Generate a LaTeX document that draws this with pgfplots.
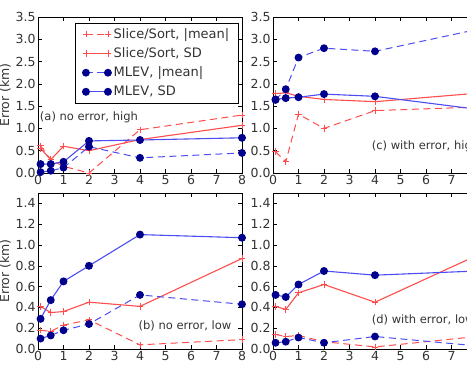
\documentclass[border=0pt]{standalone}
\usepackage{fontspec}
\setmainfont{DejaVu Sans}
\usepackage{pgfplots}
\pgfplotsset{compat=1.18}

\definecolor{rl}{rgb}{1,0.3,0.3}
\definecolor{bl}{rgb}{0.3,0.3,0.95}
\definecolor{nv}{rgb}{0,0,0.55}
\definecolor{tx}{gray}{0.2}

\tikzset{lab/.style={font=\fontsize{11.5}{14}\selectfont, text=tx, anchor=west, inner sep=0pt}}

\pgfplotsset{
 myax/.style={scale only axis, width=204pt, height=156pt, xmin=0, xmax=8, ymin=0,
   xtick={0,...,8}, tick align=inside, major tick length=4pt,
   tick style={black, line width=0.5pt}, axis line style={line width=0.8pt, black},
   ticklabel style={font=\fontsize{12.5}{14}\selectfont, text=tx},
   xticklabel style={yshift=1pt},
   /pgf/number format/assume math mode=true,
   yticklabel style={/pgf/number format/fixed, /pgf/number format/fixed zerofill, /pgf/number format/precision=1, xshift=1pt},
   label style={font=\fontsize{12.5}{14}\selectfont, text=tx},
   ylabel style={yshift=-2pt},
   legend image code/.code={\draw[##1] plot coordinates {(0pt,0pt) (22pt,0pt)};},
 },
 topax/.style={myax, ymax=3.5, ytick={0,0.5,...,3.5}},
 botax/.style={myax, ymax=1.5, ytick={0,0.2,...,1.4}},
 smean/.style={rl, line width=1pt, dash pattern=on 7pt off 4.5pt, mark=+, mark size=3.2pt, mark options={solid, line width=0.8pt}},
 ssd/.style={rl, line width=1.1pt, mark=+, mark size=3.2pt, mark options={solid, line width=0.8pt}},
 mmean/.style={bl, line width=1pt, dash pattern=on 7pt off 4.5pt, mark=*, mark size=3.4pt, mark options={solid, fill=nv, draw=nv}},
 msd/.style={bl, line width=1.1pt, mark=*, mark size=3.4pt, mark options={solid, fill=nv, draw=nv}},
}

\begin{document}
\begin{tikzpicture}
\useasboundingbox (0,0) rectangle (467pt,366pt);
\clip (0,0) rectangle (467pt,366pt);

% (a)
\begin{axis}[topax, at={(38pt,193pt)}, anchor=south west, ylabel={Error (km)},
  legend style={at={(rel axis cs:0.985,0.962)}, anchor=north east, draw=black, line width=0.5pt,
    font=\fontsize{13}{15}\selectfont, text=tx, row sep=3pt, inner xsep=7pt, inner ysep=3pt,
    nodes={inner sep=2.4pt}},
  legend cell align=left]
\addplot[smean] coordinates {(0.1,0.61) (0.5,0.3) (1,0.15) (2,0.0) (4,0.97) (8,1.3)};
\addlegendentry{Slice/Sort, |mean|}
\addplot[ssd] coordinates {(0.1,0.55) (0.5,0.3) (1,0.6) (2,0.5) (4,0.75) (8,1.07)};
\addlegendentry{Slice/Sort, SD}
\addplot[mmean] coordinates {(0.1,0.02) (0.5,0.05) (1,0.12) (2,0.59) (4,0.34) (8,0.45)};
\addlegendentry{MLEV, |mean|}
\addplot[msd] coordinates {(0.1,0.2) (0.5,0.2) (1,0.25) (2,0.72) (4,0.74) (8,0.79)};
\addlegendentry{MLEV, SD}
\node[lab] at (axis cs:0.07,1.26) {(a) no error, high};
\end{axis}

% (c)
\begin{axis}[topax, at={(273pt,193pt)}, anchor=south west]
\addplot[smean] coordinates {(0.1,0.48) (0.5,0.25) (1,1.32) (2,1.0) (4,1.4) (8,1.48)};
\addplot[ssd] coordinates {(0.1,1.78) (0.5,1.8) (1,1.72) (2,1.65) (4,1.6) (8,1.79)};
\addplot[mmean] coordinates {(0.1,1.64) (0.5,1.88) (1,2.59) (2,2.8) (4,2.73) (8,3.22)};
\addplot[msd] coordinates {(0.1,1.65) (0.5,1.68) (1,1.7) (2,1.77) (4,1.72) (8,1.43)};
\node[lab] at (axis cs:3.87,0.59) {(c) with error, high};
\end{axis}

% (b)
\begin{axis}[botax, at={(38pt,17pt)}, anchor=south west, ylabel={Error (km)}]
\addplot[smean] coordinates {(0.1,0.18) (0.5,0.17) (1,0.23) (2,0.28) (4,0.04) (8,0.09)};
\addplot[ssd] coordinates {(0.1,0.41) (0.5,0.35) (1,0.36) (2,0.45) (4,0.41) (8,0.87)};
\addplot[mmean] coordinates {(0.1,0.10) (0.5,0.13) (1,0.18) (2,0.24) (4,0.52) (8,0.43)};
\addplot[msd] coordinates {(0.1,0.29) (0.5,0.47) (1,0.65) (2,0.80) (4,1.10) (8,1.07)};
\node[lab] at (axis cs:3.94,0.223) {(b) no error, low};
\end{axis}

% (d)
\begin{axis}[botax, at={(273pt,17pt)}, anchor=south west]
\addplot[smean] coordinates {(0.1,0.14) (0.5,0.12) (1,0.13) (2,0.07) (4,0.02) (8,0.12)};
\addplot[ssd] coordinates {(0.1,0.41) (0.5,0.38) (1,0.54) (2,0.62) (4,0.45) (8,0.9)};
\addplot[mmean] coordinates {(0.1,0.06) (0.5,0.07) (1,0.11) (2,0.06) (4,0.12) (8,0.03)};
\addplot[msd] coordinates {(0.1,0.52) (0.5,0.50) (1,0.62) (2,0.75) (4,0.71) (8,0.75)};
\node[lab] at (axis cs:3.87,0.28) {(d) with error, low};
\end{axis}
\end{tikzpicture}
\end{document}
